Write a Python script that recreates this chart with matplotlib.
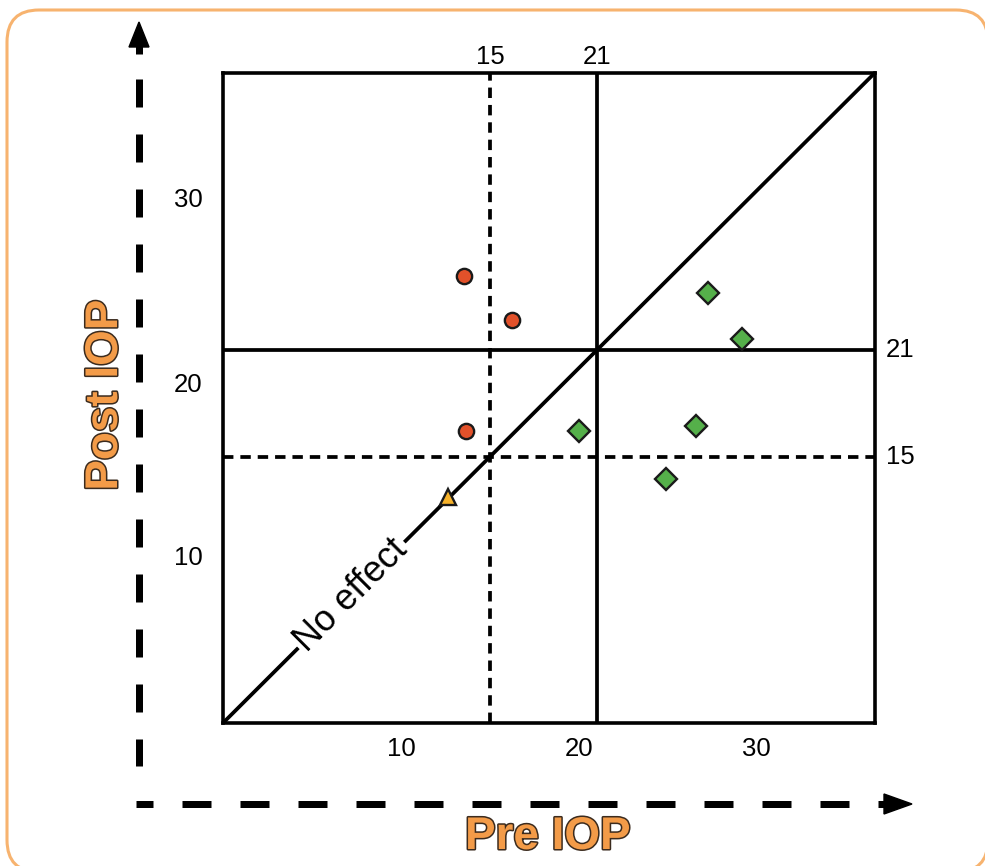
import matplotlib
matplotlib.use("Agg")
import matplotlib.pyplot as plt
import matplotlib.patheffects as pe
from matplotlib.patches import FancyBboxPatch, Polygon
from matplotlib.transforms import blended_transform_factory, offset_copy

plt.rcParams['font.family'] = ['Liberation Sans', 'DejaVu Sans']
plt.rcParams['lines.scale_dashes'] = False

# ============================
# Data
# ============================
thresholds = [15, 21]

# post IOP above baseline (red circles)
worse_pre = [13.55, 16.25, 13.63]
worse_post = [25.17, 22.73, 16.47]

# lowered IOP (green diamonds)
better_pre = [27.28, 29.16, 20.02, 26.59, 24.88]
better_post = [24.25, 21.62, 16.47, 16.73, 13.75]

# no change (orange triangle)
same_pre = [12.65]
same_post = [12.73]

x_ticks = [10, 20, 30]
x_tick_labels = ["10", "20", "30"]
y_ticks = [9.44, 19.2, 29.63]
y_tick_labels = ["10", "20", "30"]

axis_max = 36.65

ORANGE = "#F39B48"
FRAME = "#F7B36F"

# ============================
# Figure + decoration layer (pixel coords)
# ============================
W, H = 985, 866
fig = plt.figure(figsize=(W / 100, H / 100), dpi=100)

bg = fig.add_axes([0, 0, 1, 1], zorder=0)
bg.set_xlim(0, W)
bg.set_ylim(H, 0)
bg.axis("off")

frame = FancyBboxPatch((7, 10), 981, 862, boxstyle="round,pad=0,rounding_size=32",
                       facecolor="white", edgecolor=FRAME, linewidth=2.2)
bg.add_patch(frame)

px = 0.72  # points per pixel at 100 dpi
lw_big = 7 * px

# vertical dashed axis arrow
bg.plot([139, 139], [51, 766], color="black", linewidth=lw_big, dash_capstyle="butt",
        linestyle=(27 * px, (28 * px, 27 * px)))
bg.plot([139, 139], [46, 54], color="black", linewidth=lw_big, solid_capstyle="butt")
bg.add_patch(Polygon([[139, 22], [129, 47], [149, 47]], closed=True, color="black"))

# horizontal dashed axis arrow
bg.plot([136, 884], [804, 804], color="black", linewidth=lw_big, dash_capstyle="butt",
        linestyle=(12 * px, (29 * px, 29 * px)))
bg.add_patch(Polygon([[912, 804], [884, 794], [884, 814]], closed=True, color="black"))

label_fx = [pe.withStroke(linewidth=2.2, foreground="#3b2b1e")]
bg.text(105, 395, "Post IOP", rotation=90, ha="center", va="center", fontsize=33,
        fontweight="bold", color=ORANGE, path_effects=label_fx)
bg.text(548, 837, "Pre IOP", ha="center", va="center", fontsize=33,
        fontweight="bold", color=ORANGE, path_effects=label_fx)

# ============================
# Main plot
# ============================
ax = fig.add_axes([223.3 / W, (H - 722.7) / H, (875 - 223.3) / W, 650 / H], zorder=2)
ax.set_xlim(0, axis_max)
ax.set_ylim(0, axis_max)
for s in ax.spines.values():
    s.set_linewidth(2.6)

lw_ref = 2.7
ax.axline((0, 0), slope=1, color="black", linewidth=lw_ref, zorder=2)
ax.axvline(thresholds[1], color="black", linewidth=lw_ref, zorder=2)
ax.axhline(thresholds[1], color="black", linewidth=lw_ref, zorder=2)
ax.axvline(thresholds[0], color="black", linewidth=lw_ref, linestyle=(0, (7.5, 5)), zorder=2)
ax.axhline(thresholds[0], color="black", linewidth=lw_ref, linestyle=(0, (7.5, 5)), zorder=2)

ax.plot(worse_pre, worse_post, linestyle="none", marker="o", markersize=11,
        markerfacecolor="#E2512A", markeredgecolor="#1a1a1a", markeredgewidth=1.7, zorder=4)
ax.plot(better_pre, better_post, linestyle="none", marker="D", markersize=11.5,
        markerfacecolor="#55B04A", markeredgecolor="#1a1a1a", markeredgewidth=1.7, zorder=4)
ax.plot(same_pre, same_post, linestyle="none", marker="^", markersize=11,
        markerfacecolor="#F6B22A", markeredgecolor="#1a1a1a", markeredgewidth=1.7, zorder=4)

ax.text(7.2, 7.2, "No effect", rotation=45, ha="center", va="center", fontsize=26,
        rotation_mode="anchor", zorder=3,
        bbox=dict(facecolor="white", edgecolor="none", pad=2))

ax.set_xticks(x_ticks, x_tick_labels, fontsize=18.5)
ax.set_yticks(y_ticks, y_tick_labels, fontsize=18.5)
ax.tick_params(axis="x", length=0, pad=10)
ax.tick_params(axis="y", length=0, pad=15)

top_tr = offset_copy(blended_transform_factory(ax.transData, ax.transAxes), fig=fig, y=4, units="dots")
right_tr = offset_copy(blended_transform_factory(ax.transAxes, ax.transData), fig=fig, x=11, units="dots")
for t in thresholds:
    ax.text(t, 1.0, str(t), transform=top_tr, ha="center", va="bottom", fontsize=18.5)
    ax.text(1.0, t, str(t), transform=right_tr, ha="left", va="center", fontsize=18.5)

fig.savefig("out.png", dpi=100, facecolor="white")
